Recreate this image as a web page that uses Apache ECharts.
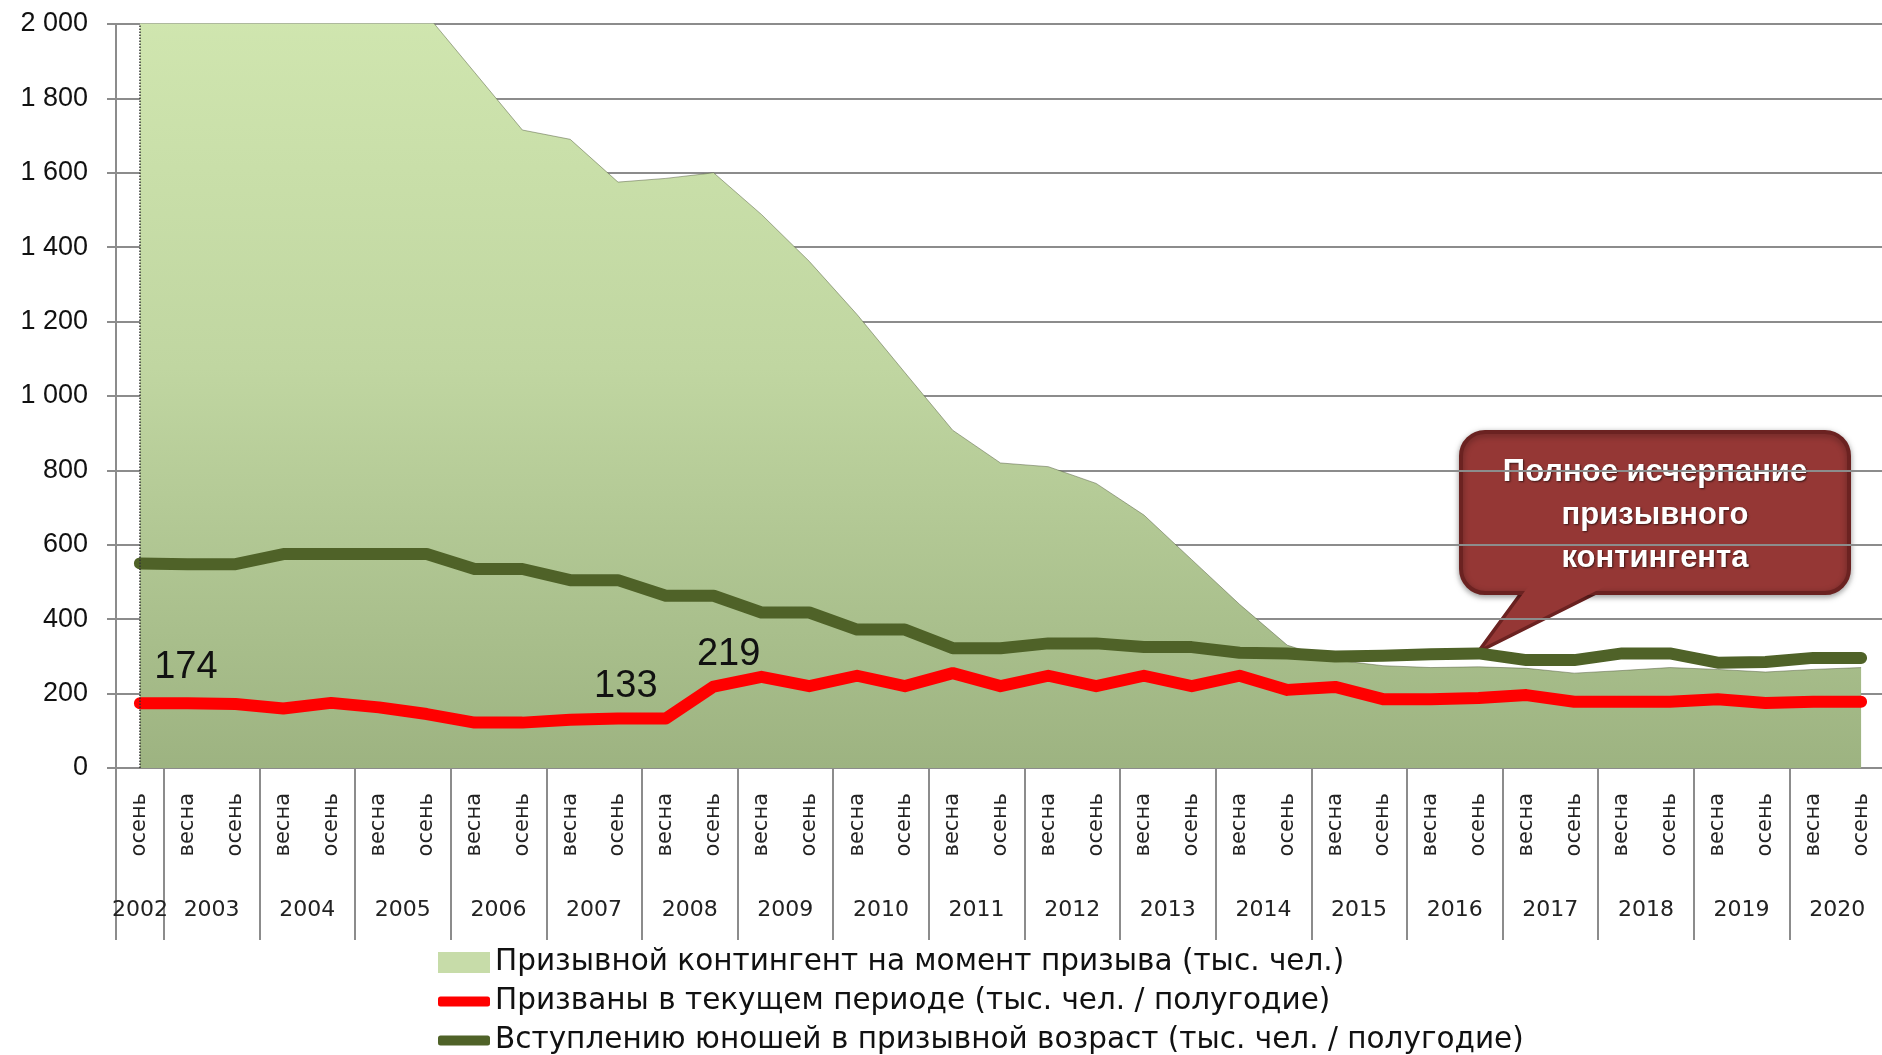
<!DOCTYPE html>
<html>
<head>
<meta charset="utf-8">
<script src="https://cdn.jsdelivr.net/npm/echarts@6/dist/echarts.min.js"></script>
<style>
  html, body { margin: 0; padding: 0; background: #fff; overflow: hidden; }
  /* правый край оси в оригинале уходит за кадр */
  #chart { width: 1888px; height: 1055px; }
</style>
</head>
<body>
<div id="chart"></div>
<script>
// периоды призыва
const periodYears = ['2002', '2003', '2003', '2004', '2004', '2005', '2005', '2006', '2006', '2007', '2007',
  '2008', '2008', '2009', '2009', '2010', '2010', '2011', '2011', '2012', '2012', '2013', '2013',
  '2014', '2014', '2015', '2015', '2016', '2016', '2017', '2017', '2018', '2018', '2019', '2019', '2020', '2020']
const periodSeasons = ['осень', 'весна', 'осень', 'весна', 'осень', 'весна', 'осень', 'весна', 'осень', 'весна', 'осень',
  'весна', 'осень', 'весна', 'осень', 'весна', 'осень', 'весна', 'осень', 'весна', 'осень', 'весна', 'осень',
  'весна', 'осень', 'весна', 'осень', 'весна', 'осень', 'весна', 'осень', 'весна', 'осень', 'весна', 'осень', 'весна', 'осень']
const yearLabels = ['2002', '2003', '2004', '2005', '2006', '2007', '2008', '2009', '2010', '2011',
  '2012', '2013', '2014', '2015', '2016', '2017', '2018', '2019', '2020']

// тыс. чел.
const contingent = [2150, 2150, 2150, 2150, 2150, 2100, 2025, 1870, 1715, 1690, 1575,
  1585, 1600, 1488, 1362, 1219, 1063, 908, 820, 810, 765, 680, 560,
  440, 330, 290, 275, 270, 272, 268, 255, 262, 270, 265, 258, 265, 270]
const recruited = [174, 174, 172, 160, 175, 163, 145, 122, 122, 130, 133,
  133, 219, 245, 220, 248, 220, 255, 220, 248, 220, 248, 220,
  248, 210, 218, 185, 185, 188, 196, 178, 178, 178, 185, 175, 178, 178]
const entering = [550, 548, 548, 575, 575, 575, 575, 535, 535, 505, 505,
  463, 463, 418, 418, 372, 372, 322, 322, 335, 335, 325, 325,
  310, 308, 300, 302, 306, 308, 290, 290, 308, 308, 283, 285, 296, 296]

// подписанные точки красной линии: индекс -> смещение подписи
const labelled = {0: [46, -36], 11: [-40, -32], 12: [15, -32]}

const names = [
  'Призывной контингент на момент призыва (тыс. чел.)',
  'Призваны в текущем периоде (тыс. чел. / полугодие)',
  'Вступлению юношей в призывной возраст (тыс. чел. / полугодие)'
]

const categories = periodYears.map((y, i) => y + ' ' + periodSeasons[i])

// второй уровень оси: полушаги, год подписывается в середине своего интервала
const yearAxis = []
for (let k = 0; k <= categories.length * 2; k++) yearAxis.push('k' + k)
yearLabels.forEach((y, j) => {
  yearAxis[j === 0 ? 1 : 4 * j] = y
})
const isYearBoundary = k => k === 0 || (k >= 2 && (k - 2) % 4 === 0)

const gray = '#8c8c8c'
const areaFill = {
  type: 'linear', x: 0, y: 0, x2: 0, y2: 1,
  colorStops: [
    {offset: 0, color: '#d2e8b1'},
    {offset: 0.5, color: '#c0d6a1'},
    {offset: 1, color: '#9db381'}
  ]
}
const calloutFill = '#953735'
const calloutEdge = '#6b2221'
const tail = [[1533, 580], [1484, 647], [1618, 580]]

const legendText = {fontFamily: 'DejaVu Sans', fontSize: 29.5, color: '#111', lineHeight: 31}
function legendRow (name, top, color, height, icon) {
  return {
    orient: 'vertical', left: 438, top: top, padding: 0,
    data: [{name: name, itemStyle: {color: color}}],
    icon: icon, itemWidth: 52, itemHeight: height, itemGap: 0,
    textStyle: legendText
  }
}

let myChart = echarts.init(document.getElementById('chart'))
myChart.setOption({
  animation: false,
  grid: {left: 116, top: 24, right: 0, height: 744},
  legend: [
    legendRow(names[0], 947, '#c7dca9', 21, 'rect'),
    legendRow(names[1], 986, '#ff0000', 10, 'roundRect'),
    legendRow(names[2], 1025, '#4f6228', 10, 'roundRect')
  ],
  xAxis: [
    {
      type: 'category',
      data: categories,
      boundaryGap: true,
      axisLine: {lineStyle: {color: gray, width: 2}},
      axisTick: {interval: 0, length: 102, lineStyle: {color: gray, width: 2}},
      axisLabel: {
        interval: 0, rotate: 90, margin: 25,
        fontFamily: 'DejaVu Sans', fontSize: 21, color: '#222',
        formatter: v => v.split(' ')[1]
      },
      splitLine: {show: false}
    },
    {
      type: 'category',
      data: yearAxis,
      boundaryGap: false,
      position: 'bottom',
      axisLine: {show: false},
      axisTick: {interval: (k) => isYearBoundary(k), length: 172, lineStyle: {color: gray, width: 2}},
      axisLabel: {
        interval: 0, margin: 131,
        fontFamily: 'DejaVu Sans', fontSize: 22, color: '#222',
        formatter: v => (v.charAt(0) === 'k' ? '' : v)
      },
      splitLine: {show: false}
    }
  ],
  yAxis: {
    type: 'value',
    min: 0,
    max: 2000,
    interval: 200,
    axisLine: {show: true, lineStyle: {color: gray, width: 2}},
    axisTick: {show: true, length: 9, lineStyle: {color: gray, width: 2}},
    axisLabel: {
      margin: 28, fontFamily: 'Liberation Sans', fontSize: 27, color: '#111',
      formatter: v => String(v).replace(/\B(?=(\d{3})+(?!\d))/g, ' ')
    },
    splitLine: {lineStyle: {color: gray, width: 2}}
  },
  series: [
    {
      name: names[0],
      type: 'line',
      data: contingent,
      symbol: 'none',
      clip: true,
      lineStyle: {color: 'rgba(70, 80, 50, 0.45)', width: 1},
      areaStyle: {color: areaFill, opacity: 1},
      itemStyle: {color: '#c7dca9'},
      markLine: {
        silent: true,
        symbol: 'none',
        label: {show: false},
        lineStyle: {type: 'dotted', color: '#333', width: 1.5},
        data: [{xAxis: 0}]
      },
      z: 1
    },
    {
      name: names[1],
      type: 'line',
      data: recruited.map((v, i) => labelled[i]
        ? {value: v, label: {show: true, offset: labelled[i]}}
        : v),
      symbol: 'circle',
      symbolSize: 1,
      showSymbol: true,
      lineStyle: {color: '#ff0000', width: 12, cap: 'round', join: 'round'},
      itemStyle: {color: '#ff0000'},
      label: {
        show: false, position: 'inside',
        fontFamily: 'Liberation Sans', fontSize: 38, color: '#111'
      },
      z: 3
    },
    {
      name: names[2],
      type: 'line',
      data: entering,
      symbol: 'none',
      lineStyle: {color: '#4f6228', width: 12, cap: 'round', join: 'round'},
      itemStyle: {color: '#4f6228'},
      z: 2
    }
  ],
  // выноска
  graphic: [
    {
      type: 'group',
      z: 100,
      children: [
        {
          type: 'polygon',
          shape: {points: tail},
          style: {fill: calloutFill, stroke: calloutEdge, lineWidth: 7, lineJoin: 'miter'}
        },
        {
          type: 'rect',
          shape: {x: 1461, y: 432, width: 388, height: 161, r: 24},
          style: {
            fill: calloutFill, stroke: calloutEdge, lineWidth: 4,
            shadowBlur: 6, shadowColor: 'rgba(0,0,0,0.35)', shadowOffsetY: 2
          }
        },
        {
          type: 'polygon',
          shape: {points: tail},
          style: {fill: calloutFill}
        },
        {
          type: 'text',
          x: 1655,
          y: 515,
          style: {
            text: 'Полное исчерпание\nпризывного\nконтингента',
            fill: '#ffffff',
            fontFamily: 'Liberation Sans',
            fontWeight: 'bold',
            fontSize: 31,
            lineHeight: 43,
            align: 'center',
            verticalAlign: 'middle',
            textShadowColor: 'rgba(0,0,0,0.6)',
            textShadowBlur: 2,
            textShadowOffsetX: 1,
            textShadowOffsetY: 1
          }
        }
      ]
    }
  ]
})
</script>
</body>
</html>
